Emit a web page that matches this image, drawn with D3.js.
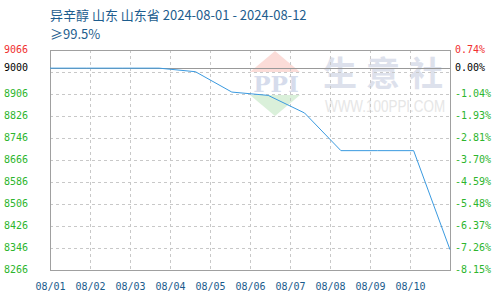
<!DOCTYPE html>
<html>
<head>
<meta charset="utf-8">
<script src="https://cdn.jsdelivr.net/npm/d3@7"></script>
<style>
  html, body { margin: 0; padding: 0; background: #fff; }
  svg { display: block; }
</style>
</head>
<body>
<svg id="chart" width="500" height="300"></svg>
<script>
// ---- data ----
const dates = ["08/01","08/02","08/03","08/04","08/05","08/06","08/07","08/08","08/09","08/10","08/11","08/12"];
const prices = [9000, 9000, 9000, 9000, 8987, 8913, 8901, 8837, 8700, 8700, 8700, 8340];
const xTickLabels = ["08/01","08/02","08/03","08/04","08/05","08/06","08/07","08/08","08/09","08/10"];
const leftTicks = [9066, 9000, 8906, 8826, 8746, 8666, 8586, 8506, 8426, 8346, 8266];
const rightLabels = ["0.74%","0.00%","-1.04%","-1.93%","-2.81%","-3.70%","-4.59%","-5.48%","-6.37%","-7.26%","-8.15%"];
const gridValues = [8346, 8426, 8506, 8586, 8666, 8746, 8826, 8906, 8986];
const baseValue = 9000;
const titleText = "异辛醇 山东 山东省 2024-08-01 - 2024-08-12";
const subtitleText = "≥99.5%";

// ---- layout ----
const L = 50, R = 450, T = 50, B = 270;
const svg = d3.select("#chart");

const y = d3.scaleLinear().domain([8266, 9066]).range([B, T]);
const xData = d3.scalePoint().domain(dates).range([L, R]);
const xAxisScale = d3.scaleLinear().domain([0, xTickLabels.length]).range([L, R]);

const labelColor = (i) => i === 0 ? "#f03030" : (i === 1 ? "#000000" : "#2db52d");

// clip
svg.append("defs").append("clipPath").attr("id", "plotClip")
  .append("rect").attr("x", L).attr("y", T).attr("width", R - L).attr("height", B - T);

// watermark
const wm = svg.append("g").attr("clip-path", "url(#plotClip)");
wm.append("polygon").attr("points", "250,72 275,51 300,72").attr("fill", "#fbdcd8");
wm.append("polygon").attr("points", "250,95 300,95 275,116").attr("fill", "#daf0da");
wm.append("text").attr("transform", "translate(276,92) scale(1.05,1)").attr("text-anchor", "middle")
  .attr("font-family", "DejaVu Serif").attr("font-weight", "bold").attr("font-size", 22)
  .attr("fill", "#d6dcec").text("PPI");
wm.append("text").attr("x", 323).attr("y", 86)
  .attr("font-family", "Noto Sans CJK SC").attr("font-weight", "bold").attr("font-size", 34).attr("letter-spacing", 9)
  .attr("fill", "#dde1ec").text("生意社");
wm.append("text").attr("transform", "translate(325,112) scale(0.84,1)")
  .attr("font-family", "Liberation Sans").attr("font-size", 16)
  .attr("fill", "#e6e6e6").text("WWW.100PPI.COM");

// grid
const grid = svg.append("g").attr("stroke", "#c8c8c8").attr("stroke-dasharray", "3,3").attr("shape-rendering", "crispEdges");
grid.selectAll("line.h").data(gridValues).join("line").attr("class", "h")
  .attr("x1", L).attr("x2", R).attr("y1", d => Math.round(y(d)) + 0.5).attr("y2", d => Math.round(y(d)) + 0.5);
grid.selectAll("line.v").data(d3.range(1, xTickLabels.length)).join("line").attr("class", "v")
  .attr("y1", T).attr("y2", B).attr("x1", d => Math.round(xAxisScale(d)) + 0.5).attr("x2", d => Math.round(xAxisScale(d)) + 0.5);

// base line
svg.append("line").attr("x1", L).attr("x2", R)
  .attr("y1", Math.round(y(baseValue)) + 0.5).attr("y2", Math.round(y(baseValue)) + 0.5)
  .attr("stroke", "#999").attr("shape-rendering", "crispEdges");

// border
svg.append("rect").attr("x", L + 0.5).attr("y", T + 0.5).attr("width", R - L).attr("height", B - T)
  .attr("fill", "none").attr("stroke", "#a0a0a0").attr("shape-rendering", "crispEdges");

// data line
svg.append("path").datum(dates.map((d, i) => [d, prices[i]]))
  .attr("fill", "none").attr("stroke", "#3a9ae0").attr("stroke-width", 1)
  .attr("d", d3.line().x(d => xData(d[0])).y(d => y(d[1])));

// left axis
const leftAxis = svg.append("g").attr("transform", `translate(${L},0)`)
  .call(d3.axisLeft(y).tickValues(leftTicks).tickSize(0).tickPadding(22).tickFormat(d3.format("d")));
leftAxis.select(".domain").remove();
leftAxis.selectAll("text").attr("font-family", "DejaVu Sans Mono").attr("font-size", 10)
  .attr("dy", "0.25em").attr("fill", (d, i) => labelColor(i));

// right axis
const rightAxis = svg.append("g").attr("transform", `translate(${R},0)`)
  .call(d3.axisRight(y).tickValues(leftTicks).tickSize(0).tickPadding(5).tickFormat((d, i) => rightLabels[i]));
rightAxis.select(".domain").remove();
rightAxis.selectAll("text").attr("font-family", "DejaVu Sans Mono").attr("font-size", 10)
  .attr("dy", "0.2em").attr("fill", (d, i) => labelColor(i));

// bottom axis
const bottomAxis = svg.append("g").attr("transform", `translate(0,${B})`)
  .call(d3.axisBottom(xAxisScale).tickValues(d3.range(xTickLabels.length)).tickSize(0).tickPadding(13)
    .tickFormat(i => xTickLabels[i]));
bottomAxis.select(".domain").remove();
bottomAxis.selectAll("text").attr("font-family", "DejaVu Sans Mono").attr("font-size", 10).attr("fill", "#1a5a8c");

// titles
svg.append("text").attr("x", 50).attr("y", 20).attr("font-family", "Noto Sans CJK SC").attr("font-size", 13)
  .attr("fill", "#1d5d8e").text(titleText);
svg.append("text").attr("x", 50).attr("y", 39).attr("font-family", "Noto Sans CJK SC").attr("font-size", 13)
  .attr("fill", "#1d5d8e").text(subtitleText);
</script>
</body>
</html>
